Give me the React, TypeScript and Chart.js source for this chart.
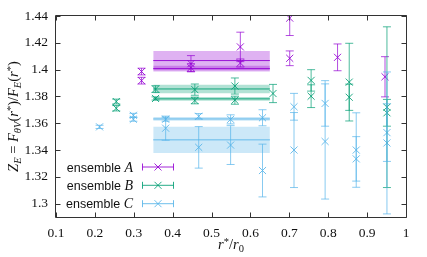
import React, { useEffect, useRef } from 'react';
import { Chart, registerables } from 'chart.js';
Chart.register(...registerables);

// ---- tick labels ----
const xTickValues = [0.1, 0.2, 0.3, 0.4, 0.5, 0.6, 0.7, 0.8, 0.9, 1.0];
const xTickLabels = ['0.1', '0.2', '0.3', '0.4', '0.5', '0.6', '0.7', '0.8', '0.9', '1'];
const yTickValues = [1.30, 1.32, 1.34, 1.36, 1.38, 1.40, 1.42, 1.44];
const yTickLabels = ['1.3', '1.32', '1.34', '1.36', '1.38', '1.4', '1.42', '1.44'];

// ---- series names ----
const seriesNames = ['A', 'B', 'C'];

// ---- ensemble A ----
const rA = [0.32, 0.32, 0.447, 0.447, 0.574, 0.574, 0.701, 0.701, 0.824, 0.946];
const zA = [1.3986, 1.3918, 1.4045, 1.4015, 1.4170, 1.4050, 1.4385, 1.4085, 1.4092, 1.3947];
const eA = [0.0025, 0.0025, 0.0060, 0.0030, 0.0110, 0.0030, 0.0130, 0.0055, 0.0100, 0.0150];

// ---- ensemble B ----
const rB = [0.255, 0.255, 0.356, 0.356, 0.457, 0.457, 0.56, 0.56, 0.658, 0.756, 0.756, 0.854, 0.854, 0.951, 0.951];
const zB = [1.3762, 1.3712, 1.3855, 1.3785, 1.3851, 1.3770, 1.3878, 1.3772, 1.3822, 1.3920, 1.3802, 1.3907, 1.3794, 1.3720, 1.3678];
const eB = [0.0018, 0.0020, 0.0025, 0.0012, 0.0042, 0.0025, 0.0060, 0.0030, 0.0068, 0.0080, 0.0085, 0.0290, 0.0098, 0.0600, 0.0100];

// ---- ensemble C ----
const rC = [0.212, 0.299, 0.299, 0.382, 0.382, 0.467, 0.467, 0.549, 0.549, 0.631, 0.631, 0.712, 0.712, 0.792, 0.792, 0.872, 0.872, 0.951, 0.951];
const zC = [1.3573, 1.3659, 1.3630, 1.3630, 1.3563, 1.3652, 1.3420, 1.3629, 1.3437, 1.3641, 1.3247, 1.3723, 1.3400, 1.3748, 1.3464, 1.3400, 1.3334, 1.3530, 1.3453];
const eC = [0.0012, 0.0015, 0.0015, 0.0015, 0.0090, 0.0020, 0.0155, 0.0034, 0.0145, 0.0060, 0.0197, 0.0100, 0.0280, 0.0170, 0.0430, 0.0278, 0.0166, 0.0215, 0.0530];

// ---- fit bands ----
const bandRange = [0.35, 0.65];
const bandCenterA = [1.4068, 1.4008];
const bandHalfA = [0.0072, 0.0022];
const bandCenterB = [1.3856, 1.3782];
const bandHalfB = [0.0032, 0.0014];
const bandCenterC = [1.3632, 1.3476];
const bandHalfC = [0.0014, 0.0098];

const rgbA = '148,0,211';
const rgbB = '0,158,115';
const rgbC = '86,180,233';
const rgba = (c: string, a: number) => `rgba(${c},${a})`;

const SERIF = '"Liberation Serif", "Times New Roman", serif';
const SANS = '"Liberation Sans", Arial, sans-serif';

function pts(xs: number[], ys: number[], es: number[]) {
  return xs.map((x, i) => ({ x, y: ys[i], e: es[i] }));
}

function pointDs(name: string, c: string, xs: number[], ys: number[], es: number[]) {
  return {
    type: 'scatter' as const,
    label: 'ensemble ' + name,
    data: pts(xs, ys, es),
    showLine: false,
    pointStyle: 'crossRot',
    pointRadius: 5,
    pointHoverRadius: 5,
    borderColor: rgba(c, 0.85),
    backgroundColor: rgba(c, 0.85),
    borderWidth: 1,
    errColor: rgba(c, 0.7),
    order: 0,
  };
}

function bandDs(c: string, centers: number[], halves: number[]) {
  const out: any[] = [];
  centers.forEach((cen, i) => {
    const h = halves[i];
    out.push({
      type: 'line', data: bandRange.map((x) => ({ x, y: cen - h })),
      borderWidth: 0, pointRadius: 0, fill: false, order: 3,
    });
    out.push({
      type: 'line', data: bandRange.map((x) => ({ x, y: cen + h })),
      borderWidth: 0, pointRadius: 0, fill: '-1', backgroundColor: rgba(c, 0.3), order: 3,
    });
  });
  centers.forEach((cen) => {
    out.push({
      type: 'line', data: bandRange.map((x) => ({ x, y: cen })),
      borderWidth: 1, borderColor: rgba(c, 0.9), pointRadius: 0, fill: false, order: 2,
    });
  });
  return out;
}

const errorBarPlugin = {
  id: 'errbars',
  afterDatasetsDraw(chart: any) {
    const { ctx, chartArea, scales } = chart;
    const xs = scales.x, ys = scales.y;
    ctx.save();
    ctx.beginPath();
    ctx.rect(chartArea.left, chartArea.top, chartArea.right - chartArea.left, chartArea.bottom - chartArea.top);
    ctx.clip();
    ctx.lineWidth = 1;
    chart.data.datasets.forEach((ds: any) => {
      if (!ds.errColor) return;
      ctx.strokeStyle = ds.errColor;
      ds.data.forEach((p: any) => {
        const px = xs.getPixelForValue(p.x);
        const t = ys.getPixelForValue(p.y + p.e);
        const b = ys.getPixelForValue(p.y - p.e);
        ctx.beginPath();
        ctx.moveTo(px, t); ctx.lineTo(px, b);
        ctx.moveTo(px - 4, t); ctx.lineTo(px + 4, t);
        ctx.moveTo(px - 4, b); ctx.lineTo(px + 4, b);
        ctx.stroke();
      });
    });
    ctx.restore();
  },
};

type Seg = { t: string; f: string; dy: number };
function drawRich(ctx: CanvasRenderingContext2D, segs: Seg[], cx: number, baseY: number) {
  let w = 0;
  const ws = segs.map((s) => { ctx.font = s.f; const m = ctx.measureText(s.t).width; w += m; return m; });
  let x = cx - w / 2;
  ctx.textAlign = 'left';
  ctx.textBaseline = 'alphabetic';
  segs.forEach((s, i) => { ctx.font = s.f; ctx.fillText(s.t, x, baseY + s.dy); x += ws[i]; });
}

const decorPlugin = {
  id: 'decor',
  afterDraw(chart: any) {
    const { ctx, chartArea: a, scales } = chart;
    const xs = scales.x, ys = scales.y;
    ctx.save();
    // frame
    ctx.strokeStyle = '#333';
    ctx.lineWidth = 1;
    const L = Math.round(a.left) - 0.5, R = Math.round(a.right) + 0.5;
    const T = Math.round(a.top) - 0.5, B = Math.round(a.bottom) + 0.5;
    ctx.beginPath();
    ctx.rect(L, T, R - L, B - T);
    ctx.stroke();
    const tl = 5;
    ctx.beginPath();
    xTickValues.forEach((v) => {
      const px = Math.round(xs.getPixelForValue(v)) + 0.5;
      ctx.moveTo(px, B); ctx.lineTo(px, B - tl);
      ctx.moveTo(px, T); ctx.lineTo(px, T + tl);
    });
    yTickValues.forEach((v) => {
      const py = Math.round(ys.getPixelForValue(v)) + 0.5;
      ctx.moveTo(L, py); ctx.lineTo(L + tl, py);
      ctx.moveTo(R, py); ctx.lineTo(R - tl, py);
    });
    ctx.stroke();

    ctx.fillStyle = '#111';
    const it = `italic 14.5px ${SERIF}`;
    const rm = `14.5px ${SERIF}`;
    const sub = `italic 10.5px ${SERIF}`;
    const sup = `10.5px ${SERIF}`;
    // y title
    ctx.save();
    ctx.translate(18, (a.top + a.bottom) / 2);
    ctx.rotate(-Math.PI / 2);
    drawRich(ctx, [
      { t: 'Z', f: it, dy: 0 }, { t: 'E', f: sub, dy: 3 },
      { t: ' = ', f: rm, dy: 0 },
      { t: 'F', f: it, dy: 0 }, { t: 'θV', f: sub, dy: 3 },
      { t: '(', f: rm, dy: 0 }, { t: 'r', f: it, dy: 0 }, { t: '*', f: sup, dy: -4.5 }, { t: ')', f: rm, dy: 0 },
      { t: '/', f: rm, dy: 0 },
      { t: 'F', f: it, dy: 0 }, { t: 'E', f: sub, dy: 3 },
      { t: '(', f: rm, dy: 0 }, { t: 'r', f: it, dy: 0 }, { t: '*', f: sup, dy: -4.5 }, { t: ')', f: rm, dy: 0 },
    ], 0, 0);
    ctx.restore();
    // x title
    drawRich(ctx, [
      { t: 'r', f: it, dy: 0 }, { t: '*', f: sup, dy: -4.5 }, { t: '/', f: rm, dy: 0 },
      { t: 'r', f: it, dy: 0 }, { t: '0', f: sup, dy: 3 },
    ], (a.left + a.right) / 2, 249);

    // legend
    const rows = [167, 185.3, 203.7];
    const cols = [rgbA, rgbB, rgbC];
    const textEnd = 133;
    seriesNames.forEach((nm, i) => {
      const y = rows[i];
      const f1 = `12.5px ${SANS}`;
      const f2 = `italic 14px ${SERIF}`;
      ctx.font = f2; const w2 = ctx.measureText(nm).width;
      ctx.font = f1; const w1 = ctx.measureText('ensemble ').width;
      ctx.textBaseline = 'alphabetic';
      ctx.textAlign = 'left';
      ctx.font = f1; ctx.fillText('ensemble ', textEnd - w2 - w1, y + 4.5);
      ctx.font = f2; ctx.fillText(nm, textEnd - w2, y + 4.5);
      const c = cols[i];
      const x0 = 142.5, x1 = 173.5, xm = 158;
      ctx.strokeStyle = rgba(c, 0.85);
      ctx.lineWidth = 1;
      ctx.beginPath();
      ctx.moveTo(x0, y); ctx.lineTo(x1, y);
      ctx.moveTo(x0, y - 3.5); ctx.lineTo(x0, y + 3.5);
      ctx.moveTo(x1, y - 3.5); ctx.lineTo(x1, y + 3.5);
      ctx.moveTo(xm - 3.5, y - 3.5); ctx.lineTo(xm + 3.5, y + 3.5);
      ctx.moveTo(xm - 3.5, y + 3.5); ctx.lineTo(xm + 3.5, y - 3.5);
      ctx.stroke();
    });
    ctx.restore();
  },
};

export default function App() {
  const ref = useRef<HTMLCanvasElement>(null);
  useEffect(() => {
    document.body.style.margin = '0';
    const datasets: any[] = [
      pointDs(seriesNames[0], rgbA, rA, zA, eA),
      pointDs(seriesNames[1], rgbB, rB, zB, eB),
      pointDs(seriesNames[2], rgbC, rC, zC, eC),
      ...bandDs(rgbA, bandCenterA, bandHalfA),
      ...bandDs(rgbB, bandCenterB, bandHalfB),
      ...bandDs(rgbC, bandCenterC, bandHalfC),
    ];
    const chart = new Chart(ref.current as HTMLCanvasElement, {
      type: 'scatter',
      data: { datasets },
      options: {
        animation: false,
        responsive: true,
        maintainAspectRatio: false,
        layout: { padding: { top: 14, right: 21, left: 0, bottom: 0 } },
        plugins: { legend: { display: false }, tooltip: { enabled: false } },
        scales: {
          x: {
            type: 'linear', min: 0.1, max: 1,
            grid: { display: false, drawTicks: false },
            border: { display: false },
            afterBuildTicks: (s: any) => { s.ticks = xTickValues.map((v) => ({ value: v })); },
            afterFit: (s: any) => { s.height = 40; },
            ticks: {
              autoSkip: false, maxRotation: 0, padding: 8, color: '#111',
              font: { family: SERIF, size: 13.5 },
              callback: (_v: any, i: number) => xTickLabels[i],
            },
          },
          y: {
            type: 'linear', min: 1.29, max: 1.44,
            grid: { display: false, drawTicks: false },
            border: { display: false },
            afterBuildTicks: (s: any) => { s.ticks = yTickValues.map((v) => ({ value: v })); },
            afterFit: (s: any) => { s.width = 56; },
            ticks: {
              autoSkip: false, padding: 8, color: '#111',
              font: { family: SERIF, size: 13.5 },
              callback: (_v: any, i: number) => yTickLabels[i],
            },
          },
        },
      } as any,
      plugins: [errorBarPlugin, decorPlugin],
    });
    return () => chart.destroy();
  }, []);
  return (
    <div style={{ width: 427, height: 257, position: 'relative' }}>
      <canvas ref={ref} style={{ display: 'block' }} />
    </div>
  );
}
